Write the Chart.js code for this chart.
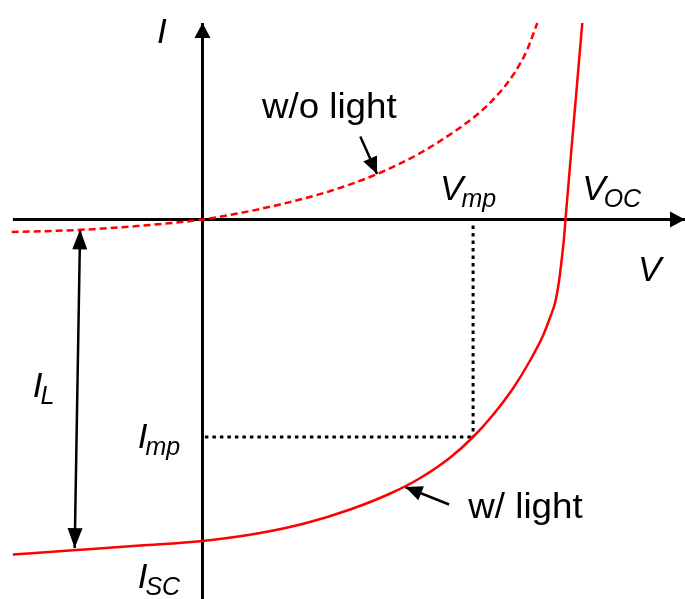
<!DOCTYPE html>
<html>
<head>
<meta charset="utf-8">
<script src="https://cdn.jsdelivr.net/npm/chart.js@4.4.1/dist/chart.umd.min.js"></script>
<style>
  html, body { margin: 0; padding: 0; background: #fff; }
  canvas { display: block; }
</style>
</head>
<body>
<canvas id="iv" width="685" height="599"></canvas>
<script>
// Dark I-V curve (no illumination): voltage in V, current in mA
var darkV = [-0.318, -0.209, -0.088, 0, 0.063, 0.129, 0.213, 0.291, 0.363, 0.421, 0.463, 0.496, 0.521, 0.541, 0.558];
var darkI = [-1.25, -1.05, -0.55, 0, 0.65, 1.5, 2.85, 4.55, 6.65, 8.85, 10.75, 12.75, 14.75, 16.95, 19.65];

// Illuminated I-V curve
var lightV = [-0.316, -0.216, -0.104, 0, 0.096, 0.173, 0.246, 0.313, 0.363, 0.413, 0.451,
              0.484, 0.518, 0.546, 0.568, 0.579, 0.588, 0.594, 0.599, 0.603, 0.605, 0.619, 0.633];
var lightI = [-33.5, -33.08, -32.61, -32.15, -31.35, -30.35, -29.0, -27.4, -25.85, -23.8, -21.75,
              -19.55, -16.85, -14.1, -11.55, -9.85, -8.25, -6.25, -3.85, -1.55, 0, 9.85, 19.65];

// maximum power point
var VMP = 0.451;
var IMP = -21.75;

// plotted window
var V_MIN = -0.3375, V_MAX = 0.8042;
var I_MIN = -37.95, I_MAX = 21.95;

var FONT = 'Arial, "Liberation Sans", sans-serif';

// text annotations, anchored at the left end of the baseline (data units)
var LABELS = [
  { main: 'I', x: -0.076, y: 17.7 },
  { main: 'w/o light', x: 0.099, y: 10.2, upright: true },
  { main: 'V', sub: 'mp', x: 0.396, y: 2.0 },
  { main: 'V', sub: 'OC', x: 0.633, y: 2.0 },
  { main: 'V', x: 0.726, y: -6.1 },
  { main: 'I', sub: 'L', x: -0.283, y: -17.7 },
  { main: 'I', sub: 'mp', x: -0.108, y: -22.8 },
  { main: 'I', sub: 'SC', x: -0.108, y: -36.8 },
  { main: 'w/ light', x: 0.443, y: -29.8, upright: true }
];

function pairs(xs, ys) {
  return xs.map(function(v, i) { return { x: v, y: ys[i] }; });
}

function drawHead(ctx, fx, fy, tx, ty, len, half, color) {
  var ang = Math.atan2(ty - fy, tx - fx);
  ctx.save();
  ctx.translate(tx, ty);
  ctx.rotate(ang);
  ctx.beginPath();
  ctx.moveTo(0, 0);
  ctx.lineTo(-len, -half);
  ctx.lineTo(-len, half);
  ctx.closePath();
  ctx.fillStyle = color;
  ctx.fill();
  ctx.restore();
}

var overlay = {
  id: 'overlay',
  afterDatasetsDraw: function(chart) {
    var ctx = chart.ctx;
    var xs = chart.scales.x, ys = chart.scales.y;

    chart.data.datasets.forEach(function(ds, i) {
      if (!ds.heads) return;
      var pts = chart.getDatasetMeta(i).data;
      ds.heads.forEach(function(which) {
        var a = which === 'end' ? pts[pts.length - 2] : pts[1];
        var b = which === 'end' ? pts[pts.length - 1] : pts[0];
        drawHead(ctx, a.x, a.y, b.x, b.y, ds.headLen, ds.headHalf, ds.borderColor);
      });
    });

    ctx.fillStyle = '#000';
    ctx.textBaseline = 'alphabetic';
    LABELS.forEach(function(l) {
      var px = xs.getPixelForValue(l.x);
      var py = ys.getPixelForValue(l.y);
      ctx.save();
      ctx.translate(px, py);
      if (l.upright) {
        // plain labels are set a touch wider than the symbol font
        ctx.scale(1.05, 1);
        ctx.font = '35px ' + FONT;
        ctx.fillText(l.main, 0, 0);
      } else {
        ctx.font = 'italic 35px ' + FONT;
        ctx.fillText(l.main, 0, 0);
        if (l.sub) {
          var w = ctx.measureText(l.main).width;
          ctx.font = 'italic 25px ' + FONT;
          ctx.fillText(l.sub, w - 2, 7);
        }
      }
      ctx.restore();
    });
  }
};

function line(points, color, width, extra) {
  var ds = {
    data: points,
    showLine: true,
    borderColor: color,
    backgroundColor: color,
    borderWidth: width,
    pointRadius: 0,
    pointHoverRadius: 0,
    tension: 0,
    fill: false
  };
  for (var k in extra) ds[k] = extra[k];
  return ds;
}

var datasets = [
  line(pairs(lightV, lightI), '#ff0000', 2.5, { cubicInterpolationMode: 'monotone' }),
  line(pairs(darkV, darkI), '#ff0000', 2.5, { cubicInterpolationMode: 'monotone', borderDash: [7, 4] }),
  // max power point guides
  line([{ x: VMP, y: -0.6 }, { x: VMP, y: IMP }], '#000', 3, { borderDash: [3.5, 4] }),
  line([{ x: 0.004, y: IMP }, { x: VMP, y: IMP }], '#000', 3, { borderDash: [3.5, 4] }),
  // axes
  line([{ x: -0.316, y: 0 }, { x: V_MAX, y: 0 }], '#000', 3, { heads: ['end'], headLen: 15, headHalf: 8 }),
  line([{ x: 0, y: I_MIN }, { x: 0, y: 19.65 }], '#000', 3, { heads: ['end'], headLen: 15, headHalf: 8 }),
  // pointer arrows
  line([{ x: -0.204, y: -1.0 }, { x: -0.213, y: -32.85 }], '#000', 2.5, { heads: ['start', 'end'], headLen: 20, headHalf: 7.5 }),
  line([{ x: 0.263, y: 8.3 }, { x: 0.291, y: 4.55 }], '#000', 2.5, { heads: ['end'], headLen: 17, headHalf: 7.5 }),
  line([{ x: 0.411, y: -28.5 }, { x: 0.338, y: -26.75 }], '#000', 2.5, { heads: ['end'], headLen: 17, headHalf: 7.5 })
];

new Chart(document.getElementById('iv'), {
  type: 'scatter',
  data: { datasets: datasets },
  options: {
    responsive: false,
    animation: false,
    devicePixelRatio: 1,
    layout: { padding: 0 },
    plugins: { legend: { display: false }, tooltip: { enabled: false } },
    events: [],
    scales: {
      x: { type: 'linear', min: V_MIN, max: V_MAX, display: false },
      y: { type: 'linear', min: I_MIN, max: I_MAX, display: false }
    }
  },
  plugins: [overlay]
});
</script>
</body>
</html>
